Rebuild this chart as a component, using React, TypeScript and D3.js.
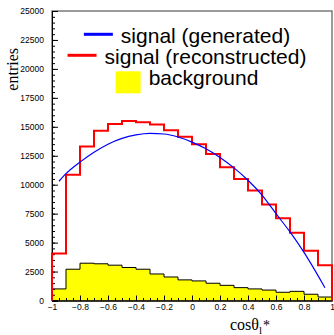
import { useEffect, useRef } from 'react'
import * as d3 from 'd3'

// bin edges of cos(theta_l*), 20 bins
const EDGES = [-1, -0.9, -0.8, -0.7, -0.6, -0.5, -0.4, -0.3, -0.2, -0.1, 0, 0.1, 0.2, 0.3, 0.4, 0.5, 0.6, 0.7, 0.8, 0.9, 1]

// reconstructed signal, entries per bin
const RECO = [4050, 10850, 13300, 14650, 15250, 15500, 15400, 15200, 14700, 14150, 13500, 12650, 11500, 10500, 9500, 8300, 7100, 5850, 4300, 3050]

// background, entries per bin
const BKG = [1000, 2700, 3220, 3170, 3050, 2850, 2700, 2290, 2030, 1780, 1690, 1490, 1310, 1110, 1000, 900, 710, 790, 540, 300]

// generated signal curve
const GEN_X = [-0.95, -0.9, -0.8, -0.7, -0.6, -0.5, -0.4, -0.3, -0.2, -0.1, 0, 0.1, 0.2, 0.3, 0.4, 0.5, 0.6, 0.7, 0.8, 0.9, 0.95]
const GEN_V = [10300, 10950, 11950, 12800, 13500, 14000, 14300, 14430, 14380, 14120, 13680, 13100, 12350, 11450, 10380, 9100, 7500, 5920, 4150, 2150, 1100]

const X_TICKS = [-1, -0.8, -0.6, -0.4, -0.2, 0, 0.2, 0.4, 0.6, 0.8, 1]
const Y_TICKS = [0, 2500, 5000, 7500, 10000, 12500, 15000, 17500, 20000, 22500, 25000]

const LEGEND = [
  { label: 'signal (generated)', kind: 'line', color: '#0000ff' },
  { label: 'signal (reconstructed)', kind: 'line', color: '#ff0000' },
  { label: 'background', kind: 'box', color: '#ffff00' },
]

const W = 334, H = 335
const SANS = '"Liberation Sans", Arial, Helvetica, sans-serif'
const SERIF = '"Liberation Serif", "Times New Roman", serif'

export default function App() {
  const svgRef = useRef<SVGSVGElement>(null)

  useEffect(() => {
    const svg = svgRef.current
    if (!svg) return
    const sel = d3.select(svg)
    sel.selectAll('*').remove()

    const x = d3.scaleLinear().domain([-1, 1]).range([52, 332])
    const y = d3.scaleLinear().domain([0, 25000]).range([300.5, 11])

    // frame
    sel.append('rect')
      .attr('x', x(-1)).attr('y', y(25000))
      .attr('width', x(1) - x(-1)).attr('height', y(0) - y(25000))
      .attr('fill', 'none').attr('stroke', '#7a7a7a').attr('stroke-width', 1.5)

    // step path of a histogram
    const steps = (vals: number[]) => {
      const pts: [number, number][] = [[x(EDGES[0]), y(0)]]
      vals.forEach((v, i) => {
        pts.push([x(EDGES[i]), y(v)])
        pts.push([x(EDGES[i + 1]), y(v)])
      })
      pts.push([x(EDGES[EDGES.length - 1]), y(0)])
      return pts
    }

    // background
    const bkg = steps(BKG)
    sel.append('path').attr('d', d3.line()(bkg) + 'Z')
      .attr('fill', '#ffff00').attr('stroke', 'none')
    sel.append('path').attr('d', d3.line()(bkg.slice(1, -1)))
      .attr('fill', 'none').attr('stroke', '#000').attr('stroke-width', 1)

    // y axis
    const ya = sel.append('g').attr('transform', `translate(${x(-1)},0)`)
    ya.call(d3.axisLeft(y).tickValues(d3.range(0, 25001, 500)).tickSize(-3).tickFormat(() => ''))
    ya.append('g').call(d3.axisLeft(y).tickValues(Y_TICKS).tickSize(-6).tickPadding(8).tickFormat(d3.format('d')))
    ya.selectAll('.domain').attr('stroke', '#000')
    ya.selectAll('text').attr('font-family', SANS).attr('font-size', 8.5).attr('fill', '#000')

    // x axis
    const xa = sel.append('g').attr('transform', `translate(0,${y(0)})`)
    xa.call(d3.axisBottom(x).tickValues(d3.range(-1, 1.001, 0.05)).tickSize(-2.5).tickFormat(() => ''))
    xa.append('g').call(d3.axisBottom(x).tickValues(X_TICKS).tickSize(-5).tickPadding(3).tickFormat(d3.format('')))
    xa.selectAll('text').attr('font-family', SANS).attr('font-size', 8.5).attr('fill', '#000')

    // reconstructed signal
    sel.append('path').attr('d', d3.line()(steps(RECO)))
      .attr('fill', 'none').attr('stroke', '#ff0000').attr('stroke-width', 2)

    // generated signal
    const gen = GEN_X.map((g, i) => ({ g, v: GEN_V[i] }))
    sel.append('path').datum(gen)
      .attr('d', d3.line<{ g: number; v: number }>().x(d => x(d.g)).y(d => y(d.v)).curve(d3.curveMonotoneX))
      .attr('fill', 'none').attr('stroke', '#0000ff').attr('stroke-width', 1.2)

    // axis titles
    sel.append('text')
      .attr('transform', 'translate(18,48) rotate(-90)')
      .attr('text-anchor', 'end')
      .attr('font-family', SERIF).attr('font-size', 16)
      .text('entries')

    const xt = sel.append('text')
      .attr('x', 230).attr('y', 329.5)
      .attr('font-family', SERIF).attr('font-size', 16)
    xt.append('tspan').text('cosθ')
    xt.append('tspan').attr('dy', 4).attr('font-size', 11).text('l')
    xt.append('tspan').attr('dy', -4).attr('dx', 1).attr('font-size', 14).text('*')

    // legend
    const cx = 187
    LEGEND.forEach((e, i) => {
      const base = 43.3 + i * 21
      const t = sel.append('text')
        .attr('y', base)
        .attr('font-family', SANS).attr('font-size', 21).attr('fill', '#000')
        .text(e.label)
      const tw = (t.node() as SVGTextElement).getComputedTextLength()
      const symW = e.kind === 'box' ? 25 : 29
      const gap = 8
      const x0 = cx - (symW + gap + tw) / 2
      t.attr('x', x0 + symW + gap)
      if (e.kind === 'line') {
        sel.append('line')
          .attr('x1', x0).attr('x2', x0 + symW)
          .attr('y1', base - 9).attr('y2', base - 9)
          .attr('stroke', e.color).attr('stroke-width', 3)
      } else {
        sel.append('rect')
          .attr('x', x0).attr('y', base - 14)
          .attr('width', symW).attr('height', 22)
          .attr('fill', e.color)
      }
    })
  }, [])

  return (
    <svg
      ref={svgRef}
      width={W}
      height={H}
      style={{ position: 'absolute', left: 0, top: 0, background: '#fff', display: 'block' }}
    />
  )
}
